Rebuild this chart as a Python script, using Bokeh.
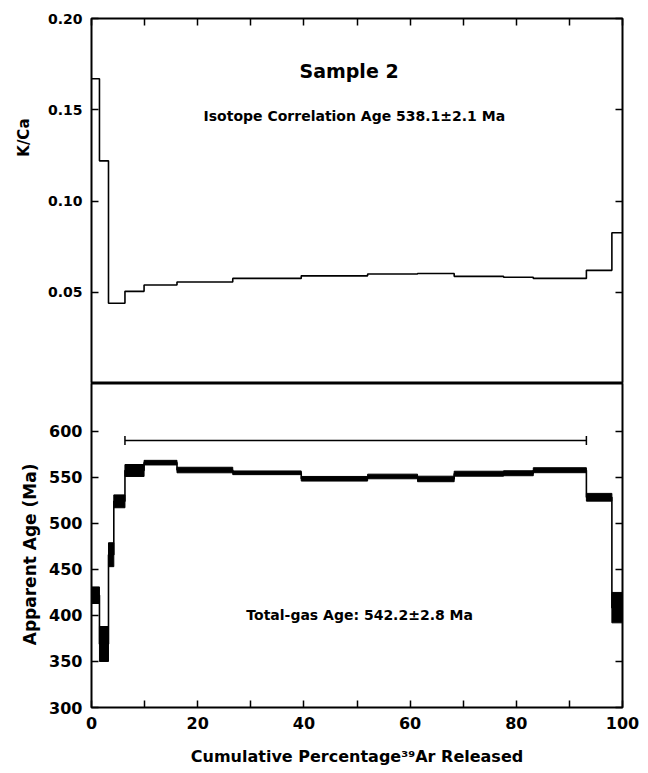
import numpy as np
from bokeh.plotting import figure
from bokeh.models import Range1d, LinearAxis, FixedTicker, Label, Title
from bokeh.layouts import column
from bokeh.embed import file_html
from bokeh.resources import INLINE

# ---- data ----
step_edges = [0, 1.5, 3.2, 4.2, 6.3, 9.9, 16.1, 26.6, 39.5, 52.0, 61.4, 68.3, 77.6, 83.2, 93.2, 98.0, 100]
k_ca = [0.167, 0.122, 0.044, 0.044, 0.0505, 0.054, 0.0556, 0.0576, 0.0590, 0.0600,
        0.0603, 0.0587, 0.0582, 0.0576, 0.0620, 0.0826]
age = [422, 369, 466, 524, 557.5, 566, 558, 555, 548.5, 551, 548.3, 554, 554.5, 557.8, 528.4, 408.5]
age_err = [9, 19, 13, 7, 6.5, 2.5, 3, 2, 2.5, 2.5, 3, 2.7, 2.7, 2.7, 4.2, 16.5]
plateau_range = [6.3, 93.2]
plateau_marker_age = 590

x_ticks = list(range(0, 101, 10))
x_tick_labels = {t: (str(t) if t % 20 == 0 else "") for t in x_ticks}
kca_ticks = [0.05, 0.10, 0.15, 0.20]
kca_tick_labels = {0.05: "0.05", 0.10: "0.10", 0.15: "0.15", 0.20: "0.20"}
age_ticks = [300, 350, 400, 450, 500, 550, 600]

title_text = "Sample 2"
iso_text = "Isotope Correlation Age 538.1\u00b12.1 Ma"
tg_text = "Total-gas Age: 542.2\u00b12.8 Ma"
xlab = "Cumulative Percentage\u00b3\u2079Ar Released"
ylab_top = "K/Ca"
ylab_bot = "Apparent Age (Ma)"

FONT = "DejaVu Sans"
W = 640


def style_axis(ax, labels=True, size="14px"):
    ax.axis_line_color = None
    ax.major_tick_in = 7
    ax.major_tick_out = 0
    ax.minor_tick_line_color = None
    ax.major_tick_line_width = 1.5
    ax.major_tick_line_color = "black"
    if labels:
        ax.major_label_text_font = FONT
        ax.major_label_text_font_style = "bold"
        ax.major_label_text_font_size = size
        ax.major_label_text_color = "black"
        ax.major_label_standoff = 9
    else:
        ax.major_label_text_color = None
        ax.major_label_text_font_size = "0px"
        ax.major_label_standoff = 0


def steps(edges, vals):
    e = np.asarray(edges, dtype=float)
    v = np.asarray(vals, dtype=float)
    return np.repeat(e, 2)[1:-1], np.repeat(v, 2)


def txt(x, y, s, size, angle=0.0):
    return Label(x=x, y=y, text=s, text_font=FONT, text_font_style="bold", text_color="black",
                 text_font_size=size, text_align="center", text_baseline="middle", angle=angle)


# ---- top panel: K/Ca ----
top = figure(width=W, height=383, x_range=Range1d(0, 100), y_range=Range1d(0.0, 0.20),
             x_axis_location="above", output_backend="svg", toolbar_location=None,
             min_border_left=91, min_border_right=18, min_border_top=18, min_border_bottom=0)
top.grid.visible = False
top.outline_line_color = "black"
top.outline_line_width = 2
top.xaxis.ticker = FixedTicker(ticks=x_ticks)
style_axis(top.xaxis[0], labels=False)
top.yaxis.ticker = FixedTicker(ticks=kca_ticks)
top.yaxis.major_label_overrides = kca_tick_labels
style_axis(top.yaxis[0], labels=True, size="14px")
ra = LinearAxis(ticker=FixedTicker(ticks=kca_ticks))
style_axis(ra, labels=False)
top.add_layout(ra, "right")
top.add_layout(Title(text=ylab_top, align="right", offset=100, standoff=24, text_font=FONT,
                     text_font_style="bold", text_font_size="15px", text_color="black"), "left")

sx, sy = steps(step_edges, k_ca)
top.line(sx, sy, line_color="black", line_width=1.6)

top.add_layout(txt(48.5, 0.1715, title_text, "19px"))
top.add_layout(txt(49.5, 0.1468, iso_text, "14px"))

# ---- bottom panel: apparent age ----
bot = figure(width=W, height=387, x_range=top.x_range, y_range=Range1d(300, 652),
             output_backend="svg", toolbar_location=None,
             min_border_left=91, min_border_right=18, min_border_top=0, min_border_bottom=63)
bot.grid.visible = False
bot.outline_line_color = "black"
bot.outline_line_width = 2
bot.xaxis.ticker = FixedTicker(ticks=x_ticks)
bot.xaxis.major_label_overrides = x_tick_labels
style_axis(bot.xaxis[0], labels=True, size="16px")
bot.xaxis.axis_label = xlab
bot.xaxis.axis_label_text_font = FONT
bot.xaxis.axis_label_text_font_style = "bold"
bot.xaxis.axis_label_text_font_size = "16px"
bot.xaxis.axis_label_text_color = "black"
bot.xaxis.axis_label_standoff = 15
bot.yaxis.ticker = FixedTicker(ticks=age_ticks)
style_axis(bot.yaxis[0], labels=True, size="16px")
ra2 = LinearAxis(ticker=FixedTicker(ticks=age_ticks))
style_axis(ra2, labels=False)
bot.add_layout(ra2, "right")
bot.add_layout(Title(text=ylab_bot, align="right", offset=80, standoff=14, text_font=FONT,
                     text_font_style="bold", text_font_size="17px", text_color="black"), "left")

bx, by = steps(step_edges, age)
bot.line(bx, by, line_color="black", line_width=1.6)
a = np.asarray(age, dtype=float)
e = np.asarray(age_err, dtype=float)
bot.quad(left=step_edges[:-1], right=step_edges[1:], bottom=a - e, top=a + e,
         fill_color="black", line_color="black", line_width=1)

bot.line(plateau_range, [plateau_marker_age] * 2, line_color="black", line_width=1.5)
bot.scatter(plateau_range, [plateau_marker_age] * 2, marker="dash", angle=np.pi / 2,
            size=9, line_color="black", line_width=1.5)

bot.add_layout(txt(50.5, 401, tg_text, "14px"))

layout = column(top, bot, spacing=0)
open("out.html", "w").write(file_html(layout, INLINE))
